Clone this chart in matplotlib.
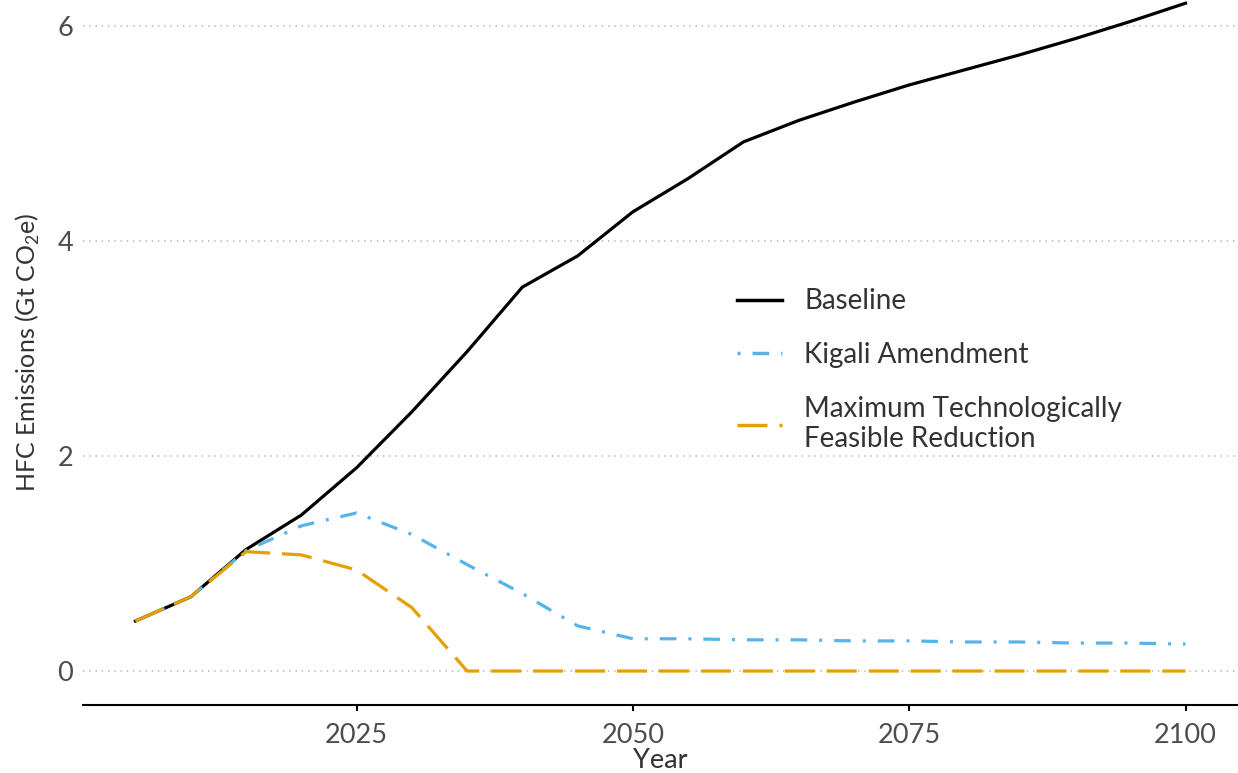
import matplotlib
matplotlib.use("Agg")
import matplotlib.pyplot as plt

# HFC emissions scenarios, Gt CO2e
years = [2005, 2010, 2015, 2020, 2025, 2030, 2035, 2040, 2045, 2050,
         2055, 2060, 2065, 2070, 2075, 2080, 2085, 2090, 2095, 2100]
baseline = [0.465, 0.69, 1.13, 1.45, 1.89, 2.41, 2.97, 3.57, 3.86, 4.27,
            4.58, 4.92, 5.12, 5.29, 5.45, 5.59, 5.73, 5.88, 6.04, 6.21]
kigali = [0.465, 0.69, 1.12, 1.35, 1.47, 1.27, 0.99, 0.72, 0.42, 0.30,
          0.30, 0.29, 0.29, 0.28, 0.28, 0.27, 0.27, 0.26, 0.26, 0.25]
mtfr = [0.465, 0.69, 1.11, 1.08, 0.94, 0.59, 0.0, 0.0, 0.0, 0.0,
        0.0, 0.0, 0.0, 0.0, 0.0, 0.0, 0.0, 0.0, 0.0, 0.0]

x_ticks = [2025, 2050, 2075, 2100]
y_ticks = [0, 2, 4, 6]

plt.rcParams['font.family'] = ['Lato', 'DejaVu Sans']
plt.rcParams['mathtext.fontset'] = 'custom'
plt.rcParams['mathtext.rm'] = 'Lato'
plt.rcParams['lines.scale_dashes'] = False

fig = plt.figure(figsize=(12.38, 7.73), dpi=100)
ax = fig.add_axes([83 / 1238, 1 - 705 / 773, 1 - 83 / 1238, 705 / 773])

lw = 2.3
ax.plot(years, baseline, color='black', lw=lw, label='Baseline', zorder=3)
ax.plot(years, kigali, color='#56B4E9', lw=lw, dashes=(2.2, 8.6, 12, 8.6),
        dash_capstyle='butt', label='Kigali Amendment', zorder=4)
ax.plot(years, mtfr, color='#E69F00', lw=lw, dashes=(21.6, 8.6),
        dash_capstyle='butt', label='Maximum Technologically\nFeasible Reduction', zorder=5)

ax.set_xlim(2000.25, 2104.75)
ax.set_ylim(-0.316, 6.24)
ax.set_xticks(x_ticks)
ax.set_yticks(y_ticks)

ax.grid(axis='y', color='#BEBEBE', linestyle=(0, (1, 3.5)), lw=1.3)
ax.grid(axis='x', visible=False)
ax.set_axisbelow(True)

for s in ['top', 'right', 'left']:
    ax.spines[s].set_visible(False)
ax.spines['bottom'].set_linewidth(1.5)
ax.spines['bottom'].set_color('black')

ax.tick_params(axis='x', length=4, width=1.5, color='black', labelsize=19.5,
               labelcolor='#4D4D4D', pad=9)
ax.tick_params(axis='y', length=0, labelsize=19.5, labelcolor='#4D4D4D', pad=7)

ax.set_xlabel('Year', fontsize=19.5, color='#333333', labelpad=0)
ax.set_ylabel('HFC Emissions (Gt CO$_2$e)', fontsize=18, color='#333333', labelpad=11)

leg = ax.legend(loc='center left', bbox_to_anchor=(0.545, 0.475), frameon=False,
                fontsize=20, handlelength=1.6, handletextpad=0.8, labelspacing=1.0,
                labelcolor='#333333')
for line in leg.get_lines():
    line.set_linewidth(2.5)

fig.savefig('out.png', dpi=100)
